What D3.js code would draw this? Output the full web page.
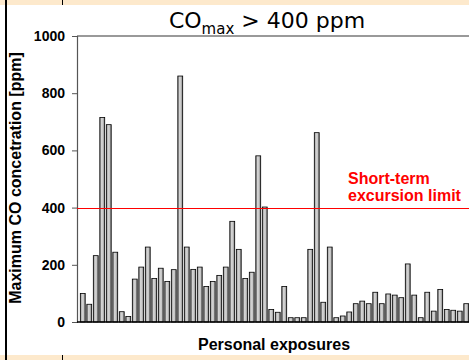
<!DOCTYPE html>
<html>
<head>
<meta charset="utf-8">
<title>CO max > 400 ppm</title>
<script src="https://cdn.jsdelivr.net/npm/d3@7"></script>
<style>
  body { margin: 0; background: #fff; }
  svg { display: block; font-family: Arial, "Liberation Sans", sans-serif; }
</style>
</head>
<body>
<div id="chart"></div>
<script>
// data
const exposures = d3.range(1, 61);
const coMax = [100, 62, 232, 715, 690, 244, 36, 19, 150, 192,
               262, 152, 188, 142, 183, 860, 262, 184, 192, 124,
               142, 163, 192, 352, 254, 152, 174, 581, 402, 44,
               34, 124, 15, 15, 15, 254, 662, 69, 262, 15,
               21, 35, 64, 73, 64, 104, 64, 98, 94, 85,
               203, 94, 15, 104, 38, 114, 44, 41, 38, 64];
const yTicks = [0, 200, 400, 600, 800, 1000];
const limit = 400;

const w = 469, h = 360;
const plotLeft = 77, plotTop = 36, plotBottom = 322, plotRight = 469;

const svg = d3.select("#chart").append("svg")
  .attr("width", w).attr("height", h);

// frame bits of the slide
svg.append("rect").attr("x", 0).attr("y", 0).attr("width", w).attr("height", 5).attr("fill", "#fde9cc");
svg.append("rect").attr("x", 0).attr("y", 355).attr("width", w).attr("height", 5).attr("fill", "#fde9cc");
svg.append("line").attr("x1", 6).attr("x2", 6).attr("y1", 0).attr("y2", h)
  .attr("stroke", "#000").attr("stroke-width", 2);
svg.append("line").attr("x1", 62.5).attr("x2", 62.5).attr("y1", 0).attr("y2", 5).attr("stroke", "#000");
svg.append("line").attr("x1", 62.5).attr("x2", 62.5).attr("y1", 355).attr("y2", h).attr("stroke", "#000");

// gradient for the bars
const grad = svg.append("defs").append("linearGradient").attr("id", "barGrad")
  .attr("x1", "0%").attr("x2", "100%").attr("y1", "0%").attr("y2", "0%");
grad.append("stop").attr("offset", "0%").attr("stop-color", "#7a7a7a");
grad.append("stop").attr("offset", "35%").attr("stop-color", "#d4d4d4");
grad.append("stop").attr("offset", "65%").attr("stop-color", "#c8c8c8");
grad.append("stop").attr("offset", "100%").attr("stop-color", "#6e6e6e");

//Scales
const xScale = d3.scaleBand()
  .domain(exposures)
  .range([80, plotRight])
  .paddingInner(0.25)
  .paddingOuter(0.05);

const yScale = d3.scaleLinear()
  .domain([0, 1000])
  .range([plotBottom, plotTop]);

//Bars
svg.selectAll("rect.bar")
  .data(coMax)
  .enter()
  .append("rect")
  .attr("class", "bar")
  .attr("x", (d, i) => xScale(exposures[i]))
  .attr("y", d => yScale(d))
  .attr("width", xScale.bandwidth())
  .attr("height", d => yScale(0) - yScale(d))
  .attr("fill", "url(#barGrad)")
  .attr("stroke", "#000")
  .attr("stroke-width", 0.8);

//top line of plot
svg.append("line")
  .attr("x1", plotLeft).attr("x2", plotRight)
  .attr("y1", yScale(1000)).attr("y2", yScale(1000))
  .attr("stroke", "#777").attr("stroke-width", 1.5);

//Axes
const yAxis = d3.axisLeft(yScale).tickValues(yTicks).tickSize(5).tickPadding(7)
  .tickFormat(d3.format("d"));
const gy = svg.append("g")
  .attr("transform", "translate(" + plotLeft + ",0)")
  .call(yAxis);
gy.select(".domain").attr("stroke", "#555").attr("stroke-width", 1.2);
gy.selectAll(".tick line").attr("stroke", "#555");
gy.selectAll(".tick text")
  .attr("font-size", 14).attr("font-weight", "bold")
  .attr("font-family", "Arial, 'Liberation Sans', sans-serif").attr("fill", "#000");

svg.append("line")
  .attr("x1", plotLeft).attr("x2", plotRight)
  .attr("y1", yScale(0)).attr("y2", yScale(0))
  .attr("stroke", "#000").attr("stroke-width", 1.5);

//limit line
svg.append("line")
  .attr("x1", plotLeft).attr("x2", plotRight)
  .attr("y1", Math.round(yScale(limit)) + 0.5).attr("y2", Math.round(yScale(limit)) + 0.5)
  .attr("stroke", "#ff0000").attr("stroke-width", 1);

const lim = svg.append("text")
  .attr("x", 348).attr("y", 184)
  .attr("fill", "#ff0000").attr("font-weight", "bold").attr("font-size", 16);
lim.append("tspan").attr("x", 348).text("Short-term");
lim.append("tspan").attr("x", 348).attr("dy", 16.7).text("excursion limit");

//Title
const title = svg.append("text")
  .attr("x", 267).attr("y", 28)
  .attr("text-anchor", "middle")
  .attr("font-family", "'DejaVu Sans', Verdana, sans-serif")
  .attr("font-size", 22);
title.append("tspan").text("CO");
title.append("tspan").attr("font-size", 15).attr("dy", 6).text("max");
title.append("tspan").attr("dy", -6).text(" > 400 ppm");

//Labels
svg.append("text")
  .attr("x", 274).attr("y", 350)
  .attr("text-anchor", "middle")
  .attr("font-weight", "bold").attr("font-size", 16)
  .text("Personal exposures");

svg.append("text")
  .attr("transform", "translate(21,178) rotate(-90)")
  .attr("text-anchor", "middle")
  .attr("font-weight", "bold").attr("font-size", 16)
  .text("Maximum CO concetration [ppm]");
</script>
</body>
</html>
